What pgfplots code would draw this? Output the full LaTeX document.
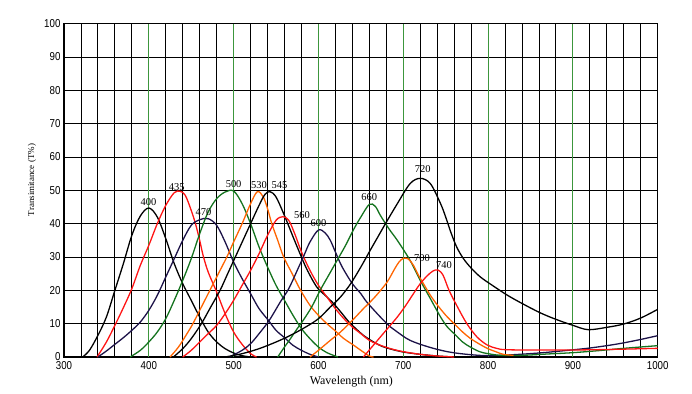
\documentclass[border=0pt]{standalone}
\usepackage{fontspec}
\setmainfont{Liberation Serif}
\newfontfamily\tickfont[FakeStretch=0.85]{Liberation Sans}
\usepackage{pgfplots}
\pgfplotsset{compat=1.18}
\definecolor{cred}{RGB}{255,20,20}
\definecolor{corange}{RGB}{255,100,0}
\definecolor{cgreen}{RGB}{20,115,30}
\definecolor{cnavy}{RGB}{28,18,72}
\definecolor{gridgreen}{RGB}{60,150,60}
\begin{document}
\begin{tikzpicture}
\begin{axis}[
  name=ax,
  scale only axis, width=593.7bp, height=333.3bp,
  xmin=300, xmax=1000, ymin=0, ymax=100,
  xtick={300,400,...,1000}, ytick={0,10,...,100},
  minor x tick num=4,
  xmajorgrids=false, xminorgrids=true, ymajorgrids=true,
  major tick length=0pt, minor tick length=0pt,
  major grid style={black, line width=0.9pt},
  minor grid style={black, line width=0.9pt},
  extra x ticks={400,500,...,900},
  extra x tick labels={},
  extra x tick style={xmajorgrids=true, major grid style={gridgreen, line width=0.9pt}},
  axis line style={line width=1.5pt},
  /pgf/number format/assume math mode=true,
  /pgf/number format/set thousands separator={},
  ticklabel style={font=\tickfont\fontsize{11.5}{12}\selectfont},
  xticklabel style={yshift=-1bp},
  xlabel={Wavelength (nm)},
  ylabel={Transimitance (T\%)},
  xlabel style={font=\fontsize{12}{13}\selectfont, at={(axis description cs:0.484,0)}, anchor=north, inner sep=0pt, yshift=-19bp},
  ylabel style={font=\fontsize{9}{10}\selectfont, at={(axis description cs:-0.054,0.531)}, anchor=center, inner sep=0pt},
  every axis plot/.append style={line width=1.3pt, smooth, tension=0.55, no markers},
  clip=true,
]
% 400 black
\addplot[black] coordinates {(322,0)(330,2)(340,6.5)(350,12)(360,20)(370,28)(380,36.5)(390,42.3)(400,44.7)(410,42)(420,35.5)(430,28)(440,22)(450,17)(460,12)(470,7.5)(480,4.5)(490,2.5)(500,1.2)(510,0.4)(520,0)};
% 435 red
\addplot[cred] coordinates {(339,0)(350,4.5)(360,9.5)(370,14.8)(380,20.5)(390,27.5)(400,33.5)(410,40)(420,45.5)(430,49.3)(437,49.7)(443,48.5)(450,44)(455,40)(460,35)(464,30.5)(470,25.5)(480,19.5)(490,13)(500,7.5)(510,3.8)(520,1)(527,0)};
% 470 navy
\addplot[cnavy] coordinates {(340,0)(350,1.8)(360,3.8)(370,5.8)(380,8)(390,10.5)(400,14)(410,18.5)(420,24)(430,29.5)(440,35)(450,39.5)(460,41.2)(470,41.5)(480,39.5)(490,34.5)(500,28.5)(510,23.5)(520,19)(530,14.5)(541,11)(550,8)(560,5.8)(570,3.5)(580,2)(590,0.8)(600,0)};
% 500 green
\addplot[cgreen] coordinates {(378,0)(390,2)(400,4.5)(410,7.5)(420,11.5)(430,17)(440,23)(450,29.5)(460,37)(470,43.5)(480,47.5)(490,49.5)(500,49.8)(510,46)(520,40)(530,33)(540,27)(550,21.5)(560,17)(570,12.5)(580,8.5)(590,5.5)(600,3)(610,1.3)(623,0)};
% 530 orange
\addplot[corange] coordinates {(425,0)(435,3)(445,7)(452,10)(462,15)(472,20)(482,25)(492,30)(500,34.5)(510,40)(520,46)(528,49.6)(535,48)(540,44.5)(545,40)(552,35)(559,30)(569,25)(579,20)(590,15.5)(600,12.5)(610,10)(620,7.8)(630,5.5)(640,3.8)(650,2)(660,0.3)(665,0)};
% 545 black
\addplot[black] coordinates {(429,0)(440,2.5)(450,5.5)(462,10)(473,15)(484,20)(493,25)(502,30)(511,35)(520,40)(530,45.5)(537,48.8)(543,49.6)(550,48)(559,43)(567,38)(575,33)(586,26.5)(598,21)(608,18.5)(618,16)(628,13)(636,10.5)(645,8.3)(653,6.5)(665,4.5)(675,3.2)(685,2.4)(700,1.5)(720,0.8)(740,0.3)(760,0)};
% 560 red
\addplot[cred] coordinates {(440,0)(450,2)(460,4.5)(470,7)(480,9.5)(490,13)(500,17)(510,21.5)(520,26)(530,31)(540,36.5)(550,41)(558,42.1)(565,41)(572,37)(580,31.5)(590,26)(600,21.5)(610,18)(620,14.5)(630,11.5)(640,9)(650,7)(660,5)(670,3.8)(685,2.5)(700,1.6)(720,0.8)(740,0.3)(760,0)};
% 600 navy
\addplot[cnavy] coordinates {(495,0)(510,2)(520,4)(530,7)(542,11)(555,16.5)(565,20.5)(575,26)(583,30.5)(590,34.5)(600,38.1)(608,37.2)(614,35)(620,31.5)(628,27)(640,22)(650,19)(657,16.5)(673,12)(685,9)(693,7.5)(708,5)(730,3)(752,1.6)(775,0.8)(800,0.4)(830,0.7)(860,1.2)(890,1.9)(920,2.7)(950,3.8)(975,5)(1000,6.4)};
% 660 green
\addplot[cgreen] coordinates {(552,0)(560,3)(567,5.5)(575,8.5)(582,11)(592,15)(602,20)(612,24.5)(622,29)(632,33.5)(642,38.5)(650,42)(660,45.8)(667,45.2)(673,42.5)(683,38.5)(693,35)(708,29)(720,23)(732,17.5)(744,12)(752,9)(760,7)(770,4.5)(779,3)(790,1.6)(800,1)(815,0.5)(840,0.5)(870,0.9)(900,1.3)(930,1.9)(960,2.6)(1000,3.4)};
% 700 orange
\addplot[corange] coordinates {(590,0)(600,2)(614,5)(626,7.5)(640,11)(653,14.5)(661,16.5)(670,19)(681,22.5)(690,26.5)(695,28.5)(700,29.6)(706,29.4)(712,27.5)(718,24.5)(725,21.5)(732,18.5)(742,15)(752,12)(760,10)(770,7.5)(779,5.6)(789,4)(799,2.6)(810,1.5)(818,0.8)(830,0.5)};
% 720 black
\addplot[black] coordinates {(490,0)(510,1)(530,2.5)(550,4.5)(567,6.5)(585,9)(600,11.5)(614,15)(626,18)(638,22)(650,27)(661,32)(670,36)(679,40)(693,46)(708,52)(720,53.6)(732,52)(744,46)(750,42)(756,37.5)(763,33)(771,29.5)(780,26.7)(791,24)(805,21.5)(823,18.5)(842,15.8)(862,13.2)(880,11.3)(900,9.5)(918,8.2)(940,8.9)(960,9.9)(980,11.7)(1000,14.3)};
% 740 red
\addplot[cred] coordinates {(653,0)(663,3)(673,6)(683,9)(693,12)(703,15.5)(712,19)(720,22)(728,24.3)(735,25.8)(741,26.1)(747,24.5)(754,20)(764,15)(775,10)(787,6)(799,3.6)(810,2.6)(820,2.2)(850,2.1)(900,2.1)(950,2.3)(1000,2.6)};
% labels
\begin{scope}[every node/.style={font=\fontsize{10.5}{11}\selectfont, inner sep=0pt}]
\node at (axis cs:399.5,46.6) {400};
\node at (axis cs:433,51.1) {435};
\node at (axis cs:464.5,43.6) {470};
\node at (axis cs:500,51.9) {500};
\node at (axis cs:530,51.6) {530};
\node at (axis cs:554,51.6) {545};
\node at (axis cs:580.5,42.6) {560};
\node at (axis cs:600,40.1) {600};
\node at (axis cs:660,47.9) {660};
\node at (axis cs:723,56.3) {720};
\node at (axis cs:722,29.8) {700};
\node at (axis cs:748,27.6) {740};
\end{scope}
\end{axis}
\pgfresetboundingbox
\path[use as bounding box] ([shift={(-64bp,-37bp)}]ax.south west) rectangle ([shift={(34.3bp,23.7bp)}]ax.north east);
\end{tikzpicture}
\end{document}
